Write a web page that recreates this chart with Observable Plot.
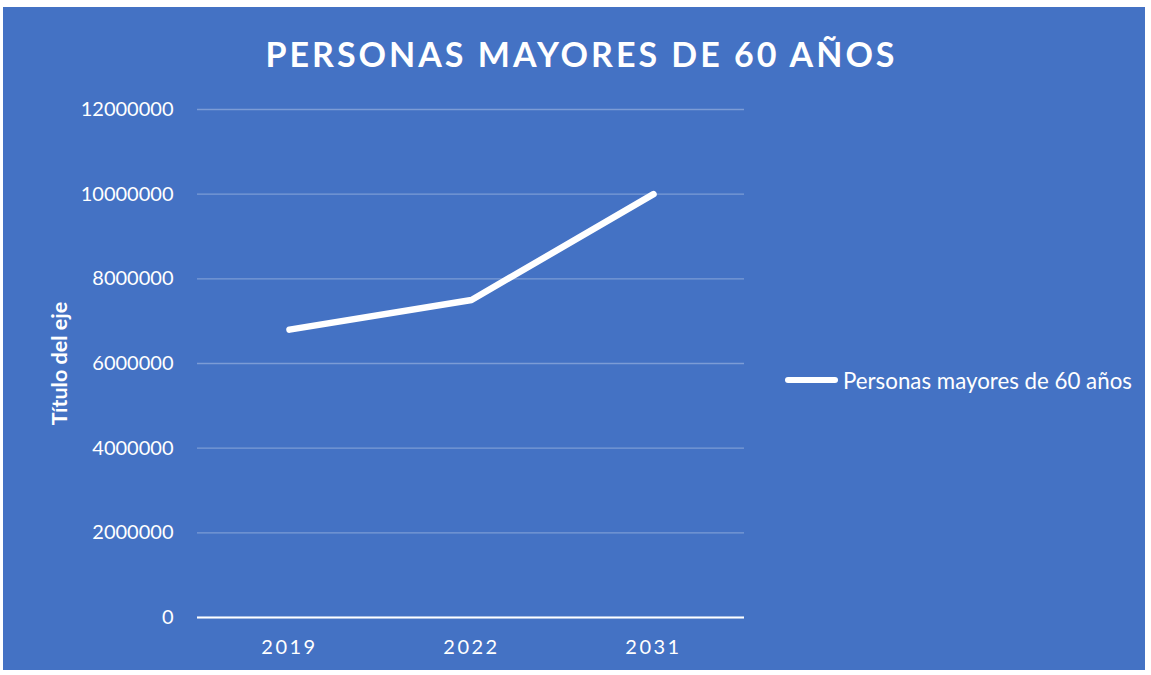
<!DOCTYPE html>
<html>
<head>
<meta charset="utf-8">
<script src="https://cdn.jsdelivr.net/npm/d3@7"></script>
<script src="https://cdn.jsdelivr.net/npm/@observablehq/plot@0.6"></script>
<style>
  html, body { margin: 0; padding: 0; background: #ffffff; }
  #card { position: absolute; left: 3px; top: 7px; width: 1142px; height: 663px; background: #4472C4; font-family: Lato, "Open Sans", sans-serif; color: #ffffff; overflow: hidden; }
  #title { position: absolute; left: 0; top: 0; width: 100%; height: 80px; box-sizing: border-box; padding-left: 15px; display: flex; align-items: center; justify-content: center; font-size: 34px; font-weight: 700; letter-spacing: 3px; padding-top: 12px; }
  #chart { position: absolute; left: 0; top: 80px; }
  #legend { position: absolute; left: 782px; top: 360px; height: 26px; display: flex; align-items: center; font-size: 22.3px; }
  #legend .sw { width: 53px; height: 6px; background: #fff; border-radius: 3px; margin-right: 5px; }
  #chart svg { overflow: visible; }
  #chart g[aria-label="x-axis tick label"] text { letter-spacing: 2.5px; }
</style>
</head>
<body>
<div id="card">
  <div id="title">PERSONAS MAYORES DE 60 AÑOS</div>
  <div id="chart"></div>
  <div id="legend"><div class="sw"></div><span>Personas mayores de 60 años</span></div>
</div>
<script>
const years = ["2019", "2022", "2031"];
const values = [6800000, 7500000, 10000000];
const yTicks = [0, 2000000, 4000000, 6000000, 8000000, 10000000, 12000000];
const seriesName = "Personas mayores de 60 años";
const axisTitle = "Título del eje";

const data = years.map((y, i) => ({year: y, value: values[i]}));

const chart = Plot.plot({
  width: 1142,
  height: 583,
  marginLeft: 194,
  marginRight: 401,
  marginTop: 22,
  marginBottom: 53,
  style: {background: "transparent", color: "#ffffff", fontFamily: "Lato, 'Open Sans', sans-serif", overflow: "visible"},
  x: {type: "point", domain: years, padding: 0.5, label: null},
  y: {domain: [0, 12000000], label: null},
  marks: [
    Plot.gridY(yTicks, {stroke: "#ffffff", strokeOpacity: 0.3, strokeWidth: 1.3}),
    Plot.ruleY([0], {stroke: "#ffffff", strokeWidth: 2.2, strokeOpacity: 1}),
    Plot.axisY({ticks: yTicks, tickSize: 0, tickPadding: 24, fontSize: 20, tickFormat: d => String(d), label: null}),
    Plot.axisX({tickSize: 0, tickPadding: 22, fontSize: 20, label: null}),
    Plot.line(data, {x: "year", y: "value", stroke: "#ffffff", strokeWidth: 6.5, strokeLinecap: "round", strokeLinejoin: "round"}),
    Plot.text([axisTitle], {frameAnchor: "left", textAnchor: "middle", rotate: -90, dx: -137, fontSize: 21.5, fontWeight: "bold", fill: "#ffffff"})
  ]
});
document.getElementById("chart").appendChild(chart);
</script>
</body>
</html>
